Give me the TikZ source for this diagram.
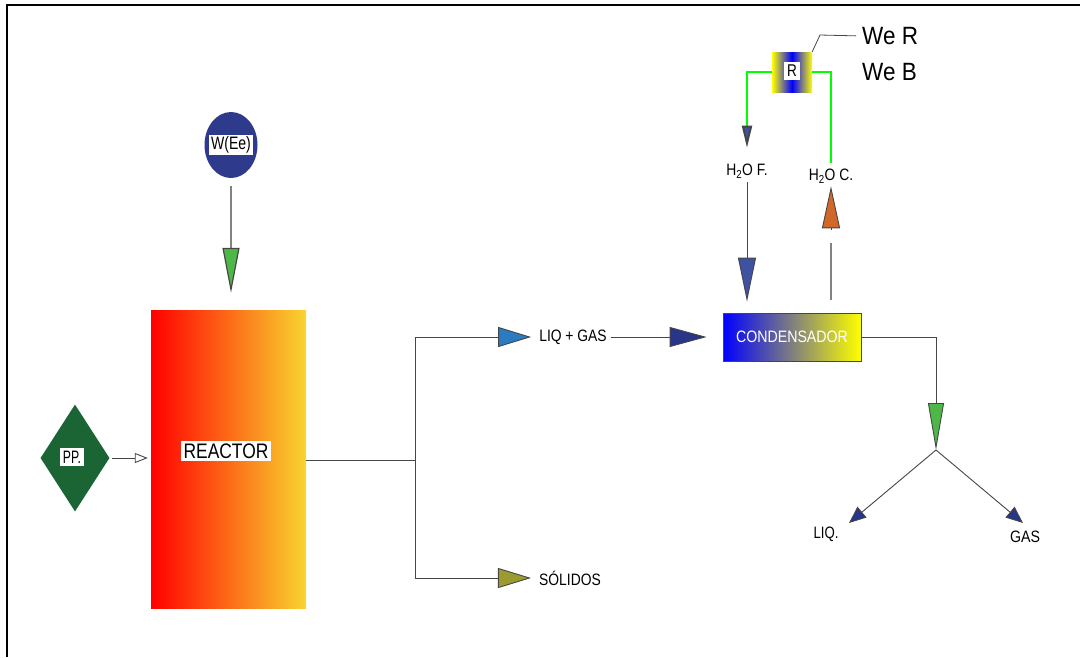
\documentclass[tikz,border=0pt]{standalone}
\usepackage{fontspec}
\usepackage{graphicx}
\setmainfont{Liberation Sans}
\usetikzlibrary{arrows.meta,shapes.geometric}
\definecolor{circblue}{RGB}{46,58,140}
\definecolor{trigreen}{RGB}{77,184,72}
\definecolor{ppgreen}{RGB}{27,101,53}
\definecolor{lgblue}{RGB}{42,123,191}
\definecolor{navy}{RGB}{40,53,136}
\definecolor{olive}{RGB}{156,155,47}
\definecolor{hfblue}{RGB}{63,81,161}
\definecolor{hcorange}{RGB}{210,103,42}
\definecolor{lime}{RGB}{0,255,0}
\definecolor{reacyel}{RGB}{248,213,48}
\definecolor{linegray}{RGB}{70,70,70}
\definecolor{lightgray}{RGB}{130,130,130}
\newcommand{\cx}[2][0.84]{\scalebox{#1}[1]{#2}}
\begin{document}
\begin{tikzpicture}[x=1pt,y=-1pt,
  conn/.style={draw=linegray, line width=0.9pt, line join=miter},
  lbl/.style={font=\fontsize{16.5}{18}\selectfont, inner sep=0pt},
  wbox/.style={fill=white, inner sep=2.5pt},
  tipA/.style args={#1/#2/#3}{-{Triangle[length=#1pt,width=#2pt,color=linegray,fill=#3]}},
]
\useasboundingbox (0,0) rectangle (1080,657);
\draw[line width=2pt] (7,657) -- (7,5) -- (1080,5);

% nodes
\node[ellipse, fill=circblue, minimum width=53pt, minimum height=66pt, inner sep=0pt] (wee) at (231,145) {};
\node[wbox, inner sep=2pt, font=\fontsize{18}{20}\selectfont] at (231,145) {\cx[0.78]{W(Ee)}};
\node[rectangle, left color=red, right color=reacyel, minimum width=155pt, minimum height=298pt, inner sep=0pt] (reactor) at (228.5,459) {};
\node[wbox, inner sep=3pt, font=\fontsize{21}{23}\selectfont] (reactorlbl) at (226,451) {\cx[0.83]{REACTOR}};
\node[diamond, fill=ppgreen, minimum width=69pt, minimum height=107pt, inner sep=0pt] (pp) at (75,458) {};
\node[wbox, font=\fontsize{18}{20}\selectfont, inner sep=3pt] at (72,457) {\cx[0.68]{PP.}};
\node[rectangle, draw=linegray, line width=0.8pt, left color=blue, right color=yellow, minimum width=138pt, minimum height=48pt, inner sep=0pt, text=white, font=\fontsize{16.5}{18}\selectfont] (cond) at (792,337) {\cx[0.86]{CONDENSADOR}};
\node[rectangle, left color=yellow, right color=yellow, middle color=blue, minimum width=40pt, minimum height=40pt, inner sep=0pt] (rbox) at (792,72) {};
\node[wbox, font=\fontsize{17}{19}\selectfont, inner sep=3pt] at (792,71) {\cx[0.8]{R}};

\node[lbl] (liqgas) at (573,337) {\cx{LIQ + GAS}};
\node[lbl] (solidos) at (570,578) {\cx{SÓLIDOS}};
\node[lbl] (hf) at (747,171) {\cx{H\textsubscript{2}O F.}};
\node[lbl] (hc) at (831,176) {\cx{H\textsubscript{2}O C.}};
\node[lbl] (liq) at (826,534) {\cx[0.8]{LIQ.}};
\node[lbl] (gas) at (1025,537) {\cx[0.86]{GAS}};
\node[anchor=west, inner sep=0pt, font=\fontsize{25}{27}\selectfont] (weR) at (862,36) {\cx[0.9]{We R}};
\node[anchor=west, inner sep=0pt, font=\fontsize{25}{27}\selectfont] (weB) at (862,72) {\cx[0.9]{We B}};

\coordinate (split) at (415,460);
\coordinate (sep) at (936,450);
\coordinate (liqend) at (849,523);
\coordinate (gasend) at (1023,523);
\coordinate (lead) at (820,35);

% connectors
\draw[conn, draw=lightgray, line width=1.2pt, tipA=45/17/trigreen] (wee.south) ++(0,8) -- ([yshift=17pt]reactor.north -| wee.south);
\draw[conn, -{Triangle[open, length=13pt, width=10pt, color=linegray, fill=white]}, shorten <=2pt, shorten >=3pt] (pp.east) -- (reactor.west |- pp.east);
\draw[conn] (reactor.east |- split) -- (split);
\draw[conn, tipA=33/20/lgblue, shorten >=8pt] (split) |- (liqgas.west);
\draw[conn, tipA=33/20/olive, shorten >=8pt] (split) |- (solidos.west);
\draw[conn, tipA=37/20/navy, shorten <=4pt, shorten >=16pt] (liqgas.east) -- (cond.west);
\draw[conn, tipA=47/16/trigreen] (cond.east) -| (sep);
\draw[conn, tipA=17/14/navy] (sep) -- (liqend);
\draw[conn, tipA=17/14/navy] (sep) -- (gasend);
\draw[conn, tipA=44/18/hfblue, shorten <=4pt, shorten >=11pt] (hf.south) -- (hf.south |- cond.north);
\draw[conn, draw=lightgray, line width=1.2pt, shorten <=13pt] (hc.south |- cond.north) -- ++(0,-70);
\draw[conn, tipA=42/18/hcorange, shorten <=83pt, shorten >=3pt] (hc.south |- cond.north) -- (hc.south);
\draw[draw=lime, line width=2pt, tipA=22/10/hfblue, shorten >=16pt] (rbox.west) -| (hf.north);
\draw[draw=lime, line width=2pt, shorten >=6pt] (rbox.east) -| (hc.north);
\draw[conn, line width=0.8pt, shorten >=6pt] (rbox.north east) -- (lead) -- (weR.west);
\end{tikzpicture}
\end{document}
